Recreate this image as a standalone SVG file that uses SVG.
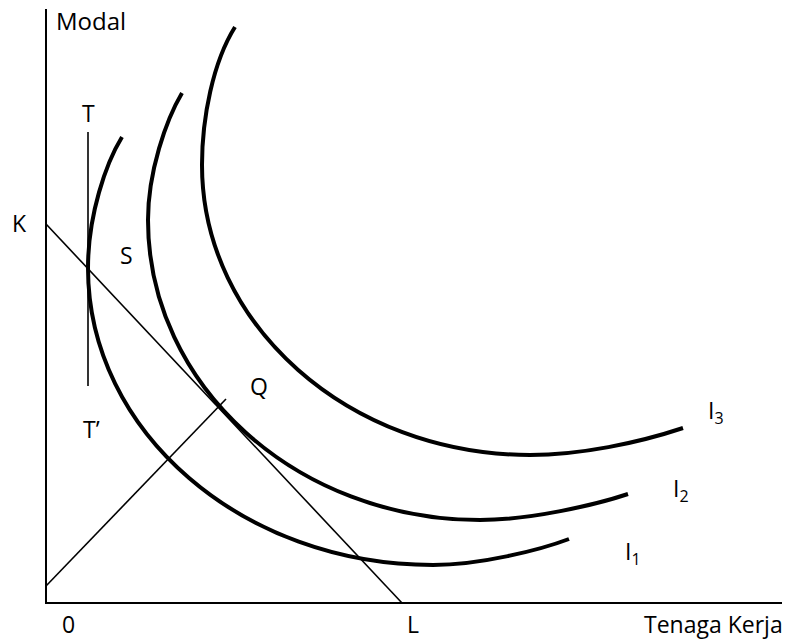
<svg xmlns="http://www.w3.org/2000/svg" width="798" height="642" viewBox="0 0 798 642">
<style>
.lbl{font-family:"Open Sans","Liberation Sans",sans-serif;font-size:23px;fill:#000}
.big{font-size:24px}
.sub{font-size:16px}
.curve{fill:none;stroke:#000;stroke-width:4;stroke-linecap:butt}
.thin{fill:none;stroke:#000;stroke-width:1.6}
.axis{fill:none;stroke:#000;stroke-width:2}
</style>
<rect width="798" height="642" fill="#fff"/>
<g id="axes">
<line class="axis" x1="46" y1="9" x2="46" y2="604"/>
<line class="axis" x1="45" y1="603" x2="782" y2="603" stroke-width="2.6"/>
<text class="lbl big" x="56" y="30">Modal</text>
<text class="lbl" x="62" y="633">0</text>
<text class="lbl" x="407" y="633">L</text>
<text class="lbl" x="644" y="633">Tenaga Kerja</text>
</g>
<g id="connectors">
<line id="budget" class="thin" x1="46" y1="224" x2="402" y2="603"/>
<line id="ray" class="thin" x1="46" y1="586" x2="226" y2="399"/>
<line id="tangent" class="thin" x1="88" y1="132" x2="88" y2="386" stroke-width="2"/>
</g>
<g id="I1">
<path class="curve" d="M122,137 C106,163 88,215 88,268 C88,432 242.5,565 433,565 C480,565 540,550 569,539"/>
<text class="lbl" x="625" y="560">I<tspan class="sub" dy="5">1</tspan></text>
</g>
<g id="I2">
<path class="curve" d="M182,93 C166,120 148,172 148,220 C148,386 297,520 480,520 C530,520 595,505 628,494"/>
<text class="lbl" x="673" y="497">I<tspan class="sub" dy="5">2</tspan></text>
</g>
<g id="I3">
<path class="curve" d="M235,27 C213,62 202,118 202,165 C202,325 349,455 530,455 C580,455 638,443 683,428"/>
<text class="lbl" x="708" y="419">I<tspan class="sub" dy="5">3</tspan></text>
</g>
<g id="points">
<text class="lbl" x="82" y="122">T</text>
<text class="lbl" x="83" y="438">T’</text>
<text class="lbl" x="12" y="232">K</text>
<text class="lbl" x="120" y="264">S</text>
<text class="lbl" x="250" y="395">Q</text>
</g>
</svg>
